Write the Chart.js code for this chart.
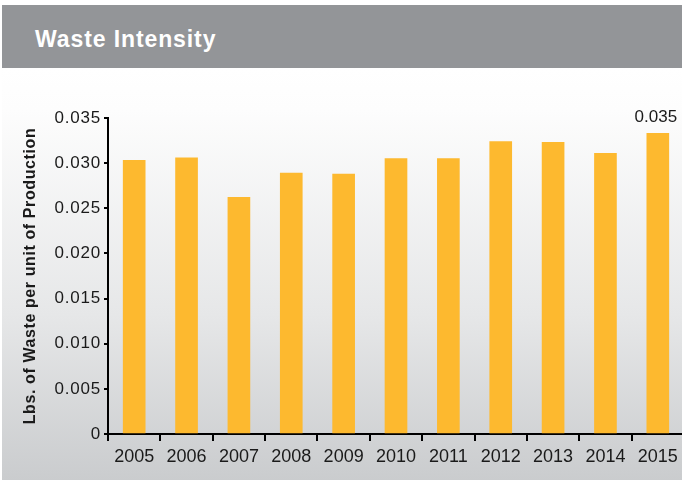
<!DOCTYPE html>
<html>
<head>
<meta charset="utf-8">
<title>Waste Intensity</title>
<script src="https://cdn.jsdelivr.net/npm/chart.js@4/dist/chart.umd.min.js"></script>
<style>
  html, body { margin: 0; padding: 0; }
  body { width: 682px; height: 480px; overflow: hidden; background: #fff; position: relative;
         font-family: "Liberation Sans", Arial, sans-serif; }
  .header { position: absolute; left: 2px; top: 5px; width: 680px; height: 63px; background: #939598; }
  .header h1 { margin: 0; position: absolute; left: 33px; top: 21px; font-size: 23px; line-height: 27px;
               font-weight: bold; color: #fff; letter-spacing: 0.9px; }
  .panel { position: absolute; left: 2px; top: 68px; width: 680px; height: 412px;
           background: linear-gradient(#ffffff 0%, #fdfdfd 10%, #e6e7e8 60%, #caccce 100%); }
  .wrap { position: absolute; left: 0; top: 90px; width: 700px; height: 390px; }
</style>
</head>
<body>
<div class="header"><h1>Waste Intensity</h1></div>
<div class="panel"></div>
<div class="wrap"><canvas id="chart" width="700" height="390"></canvas></div>
<script>
// ── Data ───────────────────────────────────────────────────────
const years = ['2005', '2006', '2007', '2008', '2009', '2010', '2011', '2012', '2013', '2014', '2015'];
const waste = [0.0303, 0.0306, 0.0262, 0.0289, 0.0288, 0.0305, 0.0305, 0.0324, 0.0323, 0.0311, 0.0333];
const valueLabels = ['', '', '', '', '', '', '', '', '', '', '0.035'];
const yTickLabels = ['0', '0.005', '0.010', '0.015', '0.020', '0.025', '0.030', '0.035'];

const BAR = '#fdb92f';
const INK = '#1a1a1a';

// y axis text in the original is set looser than Liberation Sans
const yAxisSpacing = {
  id: 'yAxisSpacing',
  beforeDraw(chart) {
    const y = chart.scales.y;
    if (y._spaced) return;
    y._spaced = true;
    const wrap = (fn, sp) => function (...a) {
      const c = chart.ctx;
      const prev = c.letterSpacing;
      c.letterSpacing = sp;
      fn.apply(y, a);
      c.letterSpacing = prev;
    };
    y.drawLabels = wrap(y.drawLabels, '0.8px');
    y.drawTitle = wrap(y.drawTitle, '0.6px');
  }
};

// value written above a bar
const barValues = {
  id: 'barValues',
  afterDatasetsDraw(chart) {
    const c = chart.ctx;
    const meta = chart.getDatasetMeta(0);
    c.save();
    c.font = '17px "Liberation Sans", Arial, sans-serif';
    c.fillStyle = INK;
    c.textAlign = 'center';
    c.textBaseline = 'bottom';
    meta.data.forEach((bar, i) => {
      if (valueLabels[i]) c.fillText(valueLabels[i], bar.x - 2, bar.y - 8);
    });
    c.restore();
  }
};

new Chart(document.getElementById('chart'), {
  type: 'bar',
  data: {
    labels: years,
    datasets: [{
      data: waste,
      backgroundColor: BAR,
      borderWidth: 0,
      barThickness: 22,
    }]
  },
  options: {
    responsive: false,
    animation: false,
    layout: { padding: { top: 28, right: 16, left: 0, bottom: 0 } },
    plugins: { legend: { display: false }, tooltip: { enabled: false } },
    scales: {
      x: {
        offset: true,
        grid: { offset: true, drawOnChartArea: false, drawTicks: true, tickLength: 7, color: '#000', lineWidth: 2 },
        border: { color: '#000', width: 2 },
        ticks: { color: INK, padding: 5, maxRotation: 0, autoSkip: false,
                 font: { family: '"Liberation Sans", Arial, sans-serif', size: 18 } },
        afterFit: s => { s.height = 46; }
      },
      y: {
        min: 0,
        max: 0.035,
        grid: { drawOnChartArea: false, drawTicks: true, tickLength: 4, color: '#000', lineWidth: 2 },
        border: { color: '#000', width: 2 },
        ticks: {
          stepSize: 0.005,
          padding: 3,
          color: INK,
          font: { family: '"Liberation Sans", Arial, sans-serif', size: 17 },
          callback: (v, i) => yTickLabels[i]
        },
        title: {
          display: true,
          text: 'Lbs. of Waste per unit of Production',
          color: INK,
          padding: { top: 21, bottom: 0 },
          font: { family: '"Liberation Sans", Arial, sans-serif', size: 16, weight: 'bold' }
        },
        afterFit: s => { s.width = 108; }
      }
    }
  },
  plugins: [yAxisSpacing, barValues]
});
</script>
</body>
</html>
